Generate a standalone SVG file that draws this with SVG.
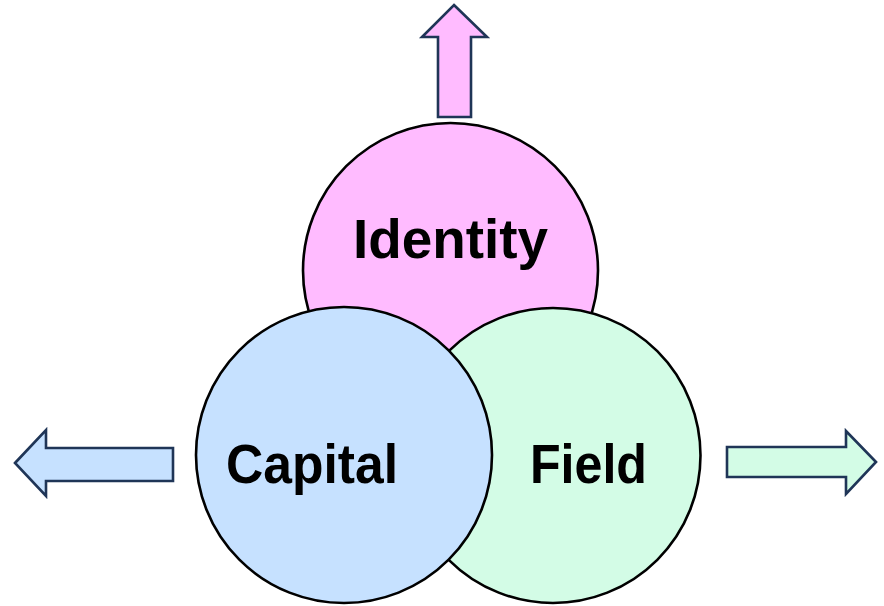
<svg xmlns="http://www.w3.org/2000/svg" width="884" height="606" viewBox="0 0 884 606">
  <style>
    .ring { stroke: #000000; stroke-width: 2.6; }
    .label { font-family: "Liberation Sans", Arial, sans-serif; font-weight: bold; font-size: 56px; fill: #000000; text-anchor: middle; }
    .block { stroke: #1F3557; stroke-width: 2.6; stroke-linejoin: miter; }
    .pink { fill: #FFBBFF; }
    .blue { fill: #C6E1FF; }
    .green { fill: #D3FCE6; }
  </style>
  <rect width="884" height="606" fill="#FFFFFF"/>

  <!-- outward block arrows -->
  <g id="connectors">
    <polygon class="block pink" points="454,5 487,37 471,37 471,117 438,117 438,37 422,37"/>
    <polygon class="block blue" points="15,463 46,430 46,448 173,448 173,481 46,481 46,496"/>
    <polygon class="block green" points="876,462 846,431 846,447 727,447 727,477 846,477 846,494"/>
  </g>

  <g id="identity">
    <circle class="ring pink" cx="450.5" cy="270.5" r="147.5"/>
    <text class="label" x="450.5" y="258" textLength="195" lengthAdjust="spacingAndGlyphs">Identity</text>
  </g>

  <g id="field">
    <circle class="ring green" cx="553" cy="455.5" r="147.5"/>
    <text class="label" x="588.5" y="483" textLength="117" lengthAdjust="spacingAndGlyphs">Field</text>
  </g>

  <g id="capital">
    <circle class="ring blue" cx="344" cy="455" r="148"/>
    <text class="label" x="312" y="483" textLength="172" lengthAdjust="spacingAndGlyphs">Capital</text>
  </g>
</svg>
